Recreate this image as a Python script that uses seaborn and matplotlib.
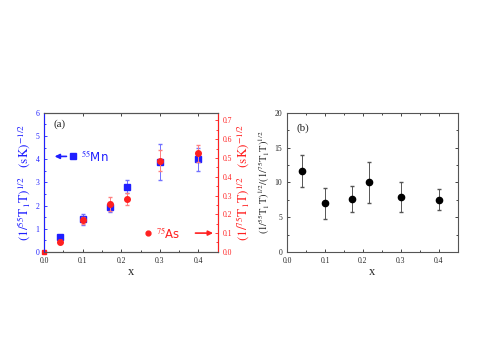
import numpy as np
import matplotlib
matplotlib.use("Agg")
import matplotlib.pyplot as plt
import seaborn as sns
from matplotlib.ticker import MultipleLocator, FormatStrFormatter

# data
x_vals = [0.04, 0.10, 0.17, 0.215, 0.30, 0.40]
mn_vals = [0.65, 1.40, 1.95, 2.82, 3.88, 4.00]
mn_err = [0.05, 0.22, 0.22, 0.28, 0.78, 0.50]
as_vals = [0.053, 0.168, 0.255, 0.282, 0.485, 0.525]
as_err = [0.008, 0.018, 0.035, 0.032, 0.055, 0.045]
ratio_vals = [11.6, 7.0, 7.6, 10.0, 7.9, 7.5]
ratio_err = [2.3, 2.2, 1.9, 3.0, 2.1, 1.5]

BLUE = '#1f1fff'
RED = '#ff2020'

sns.set_style('ticks')
plt.rcParams['font.family'] = ['Liberation Serif', 'DejaVu Serif']
plt.rcParams['mathtext.fontset'] = 'stix'

fig = plt.figure(figsize=(4.85, 3.64), dpi=100)
ax1 = fig.add_axes([0.091, 0.308, 0.358, 0.382])
ax2 = fig.add_axes([0.592, 0.308, 0.352, 0.382])


def style_ticks(ax):
    ax.tick_params(which='both', direction='in', labelsize=5.5, width=0.6)
    ax.tick_params(which='major', length=2.5)
    ax.tick_params(which='minor', length=1.5)
    for s in ax.spines.values():
        s.set_linewidth(0.8)
        s.set_color('#555555')


# ---- panel (a)
ax1b = ax1.twinx()
ax1.errorbar(x_vals, mn_vals, yerr=mn_err, fmt='s', color=BLUE, ms=4.5,
             ecolor='#7070ff', elinewidth=0.7, capsize=1.2, zorder=3)
ax1b.errorbar(x_vals, as_vals, yerr=as_err, fmt='o', color=RED, ms=4,
              ecolor='#ff8080', elinewidth=0.7, capsize=1.2, zorder=4)
ax1.plot([0.0], [0.0], 's', color=RED, ms=2.5, clip_on=False, zorder=5)

ax1.set_xlim(0, 0.45)
ax1.set_ylim(0, 6)
ax1b.set_ylim(0, 0.74)
ax1.xaxis.set_major_locator(MultipleLocator(0.1))
ax1.xaxis.set_minor_locator(MultipleLocator(0.05))
ax1.yaxis.set_major_locator(MultipleLocator(1))
ax1.yaxis.set_minor_locator(MultipleLocator(0.5))
ax1b.yaxis.set_major_locator(MultipleLocator(0.1))
ax1b.yaxis.set_minor_locator(MultipleLocator(0.05))
ax1.xaxis.set_major_formatter(FormatStrFormatter('%.1f'))
ax1b.yaxis.set_major_formatter(FormatStrFormatter('%.1f'))
style_ticks(ax1)
style_ticks(ax1b)
ax1.tick_params(axis='x', top=True)
ax1.tick_params(axis='y', colors=BLUE, which='both')
ax1b.tick_params(axis='y', colors=RED, which='both')
ax1b.spines['left'].set_color(BLUE)
ax1b.spines['right'].set_color(RED)

ax1.set_xlabel('x', fontsize=9, labelpad=1)
ax1.set_ylabel(r'$(1/^{55}\mathrm{T_1T})^{1/2}$   $(\mathrm{sK})^{-1/2}$',
               color=BLUE, fontsize=9.5, labelpad=2)
ax1b.set_ylabel(r'$(1/^{75}\mathrm{T_1T})^{1/2}$   $(\mathrm{sK})^{-1/2}$',
                color=RED, fontsize=9.5, labelpad=2)
ax1.text(0.025, 5.4, '(a)', fontsize=8)

# legend-like annotations
ax1.annotate('', xy=(0.02, 4.12), xytext=(0.065, 4.12),
             arrowprops=dict(arrowstyle='-|>', color=BLUE, lw=1.2, mutation_scale=7))
ax1.plot([0.076], [4.12], 's', color=BLUE, ms=4)
ax1.text(0.095, 4.12, r'$^{55}$Mn', color=BLUE, fontsize=8.5, va='center',
         family='DejaVu Sans')
ax1b.plot([0.268], [0.1], 'o', color=RED, ms=3.5)
ax1b.text(0.29, 0.1, r'$^{75}$As', color=RED, fontsize=8.5, va='center',
          family='DejaVu Sans')
ax1b.annotate('', xy=(0.445, 0.1), xytext=(0.385, 0.1),
              arrowprops=dict(arrowstyle='-|>', color=RED, lw=1.2, mutation_scale=7))

# ---- panel (b)
ax2.errorbar(x_vals, ratio_vals, yerr=ratio_err, fmt='o', color='black', ms=4.5,
             ecolor='#555555', elinewidth=0.7, capsize=1.2)
ax2.set_xlim(0, 0.45)
ax2.set_ylim(0, 20)
ax2.xaxis.set_major_locator(MultipleLocator(0.1))
ax2.xaxis.set_minor_locator(MultipleLocator(0.05))
ax2.yaxis.set_major_locator(MultipleLocator(5))
ax2.yaxis.set_minor_locator(MultipleLocator(2.5))
ax2.xaxis.set_major_formatter(FormatStrFormatter('%.1f'))
style_ticks(ax2)
ax2.tick_params(which='both', top=True, right=True)
ax2.set_xlabel('x', fontsize=9, labelpad=1)
ax2.set_ylabel(r'$(1/^{55}\mathrm{T_1T})^{1/2}/(1/^{75}\mathrm{T_1T})^{1/2}$',
               fontsize=7.5, labelpad=2)
ax2.text(0.025, 17.4, '(b)', fontsize=8)

fig.savefig('out.png', dpi=100)
